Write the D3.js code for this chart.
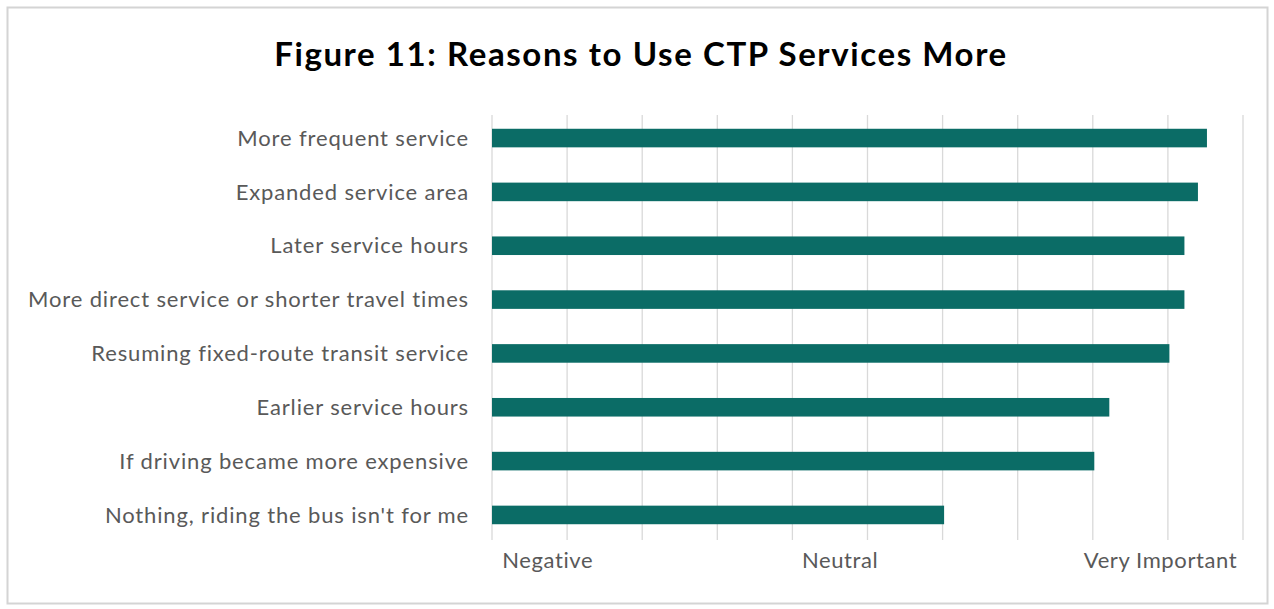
<!DOCTYPE html>
<html>
<head>
<meta charset="utf-8">
<script src="https://cdn.jsdelivr.net/npm/d3@7"></script>
<style>
  html, body { margin: 0; padding: 0; background: #ffffff; }
  svg { display: block; }
</style>
</head>
<body>
<svg id="chart" width="1274" height="609"></svg>
<script>
// Reasons respondents gave for using CTP services more (mean rating, 0–5 scale)
const categories = [
  "More frequent service",
  "Expanded service area",
  "Later service hours",
  "More direct service or shorter travel times",
  "Resuming fixed-route transit service",
  "Earlier service hours",
  "If driving became more expensive",
  "Nothing, riding the bus isn't for me"
];
const values = [4.76, 4.70, 4.61, 4.61, 4.51, 4.11, 4.01, 3.01];

// Rating scale anchors shown under the plot
const scaleLabels = ["Negative", "Neutral", "Very Important"];
const scaleLabelValues = [1, 3, 5];
const gridValues = d3.range(0, 5.01, 0.5);

const svg = d3.select("#chart");
const FONT = "Lato, 'Open Sans', sans-serif";

// outer frame
svg.append("rect")
  .attr("x", 7.5).attr("y", 7.5)
  .attr("width", 1260).attr("height", 596)
  .attr("fill", "#ffffff")
  .attr("stroke", "#d4d4d4")
  .attr("stroke-width", 2);

const x = d3.scaleLinear().domain([0, 5]).range([492, 1243]);
const y = d3.scaleBand().domain(categories).range([111, 542])
  .paddingInner(0.655).paddingOuter(0.33);

// spread a text element's letters so its run spans the given width
function spreadTo(sel, width) {
  sel.each(function () {
    const n = this.textContent.length;
    const w = this.getComputedTextLength();
    if (n > 1) d3.select(this).attr("letter-spacing", (width - w) / (n - 1));
  });
}

// vertical gridlines
svg.append("g")
  .selectAll("line")
  .data(gridValues)
  .join("line")
  .attr("x1", d => x(d)).attr("x2", d => x(d))
  .attr("y1", 115).attr("y2", 540)
  .attr("stroke", "#d9d9d9")
  .attr("stroke-width", 1.3);

// bars
svg.append("g")
  .selectAll("rect")
  .data(values)
  .join("rect")
  .attr("x", x(0))
  .attr("y", (d, i) => y(categories[i]))
  .attr("width", d => x(d) - x(0))
  .attr("height", y.bandwidth())
  .attr("fill", "#0b6c66");

// category labels
const yAxis = d3.axisLeft(y).tickSize(0).tickPadding(0);
const gy = svg.append("g")
  .attr("transform", "translate(469,0)")
  .call(yAxis);
gy.select(".domain").remove();
gy.selectAll("text")
  .attr("fill", "#595959")
  .attr("font-family", FONT)
  .attr("font-size", 22)
  .attr("letter-spacing", 0.85)
  .attr("dy", "0.35em");

// rating scale labels
const xAxis = d3.axisBottom(x)
  .tickValues(scaleLabelValues)
  .tickFormat((d, i) => scaleLabels[i])
  .tickSize(0).tickPadding(0);
const gx = svg.append("g")
  .attr("transform", "translate(0,560)")
  .call(xAxis);
gx.select(".domain").remove();
gx.selectAll("text")
  .attr("fill", "#595959")
  .attr("font-family", FONT)
  .attr("font-size", 22)
  .attr("letter-spacing", 0.6)
  .attr("dy", "0.35em")
  .attr("text-anchor", "middle")
  .attr("dx", (d, i) => [-95, -103, -83][i]);

// title
const title = svg.append("text")
  .attr("x", 641).attr("y", 66)
  .attr("text-anchor", "middle")
  .attr("font-family", FONT)
  .attr("font-weight", "bold")
  .attr("font-size", 33)
  .attr("fill", "#000000")
  .text("Figure 11: Reasons to Use CTP Services More");
spreadTo(title, 732);
</script>
</body>
</html>
